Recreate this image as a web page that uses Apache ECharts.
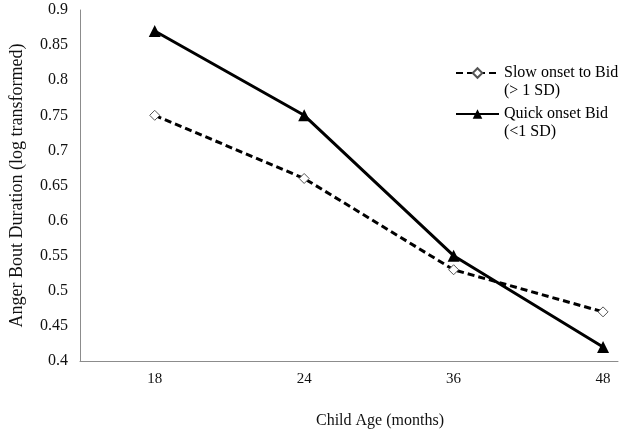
<!DOCTYPE html>
<html>
<head>
<meta charset="utf-8">
<script src="https://cdn.jsdelivr.net/npm/echarts@6/dist/echarts.min.js"></script>
<style>html,body{margin:0;padding:0;background:#fff;}#c{width:624px;height:434px;}</style>
</head>
<body>
<div id="c"></div>
<script>
var categories = ['18', '24', '36', '48'];
var slowName = 'Slow onset to Bid\n(> 1 SD)';
var quickName = 'Quick onset Bid\n(<1 SD)';
var slowValues = [0.75, 0.66, 0.53, 0.47];
var quickValues = [0.87, 0.75, 0.55, 0.42];
var yTicks = { min: 0.4, max: 0.9, interval: 0.05 };
var xTitle = 'Child Age (months)';
var yTitle = 'Anger Bout Duration (log transformed)';

var font = '"Liberation Serif", "Times New Roman", serif';
var chart = echarts.init(document.getElementById('c'), null, { renderer: 'canvas' });
function pts(vals) { return vals.map(function (v, i) { return [i, v]; }); }
chart.setOption({
  animation: false,
  backgroundColor: '#fff',
  textStyle: { fontFamily: font },
  grid: { left: 74, right: 6, top: 10, bottom: 71, containLabel: false },
  legend: {
    left: 455, top: 46, orient: 'vertical', padding: 0,
    itemWidth: 43, itemHeight: 12, itemGap: -13,
    formatter: function (n) { return ' \n' + n; },
    textStyle: { fontFamily: font, fontSize: 16, color: '#000', lineHeight: 18 },
    data: [slowName, quickName]
  },
  xAxis: {
    type: 'value', min: -0.5, max: 3.1, interval: 0.5,
    splitLine: { show: false },
    axisTick: { show: false },
    axisLine: { onZero: false, lineStyle: { color: '#8c8c8c', width: 1 } },
    axisLabel: {
      fontFamily: font, fontSize: 15, color: '#111', margin: 11,
      showMinLabel: false, showMaxLabel: false,
      formatter: function (v) { return (Math.abs(v - Math.round(v)) < 1e-6 && categories[Math.round(v)] !== undefined) ? categories[Math.round(v)] : ''; }
    },
    name: xTitle, nameLocation: 'middle', nameGap: 52,
    nameTextStyle: { fontFamily: font, fontSize: 16, color: '#111', padding: [0, 0, 0, 62] }
  },
  yAxis: {
    type: 'value', min: yTicks.min, max: yTicks.max, interval: yTicks.interval,
    splitLine: { show: false },
    axisTick: { show: false },
    axisLine: { show: true, onZero: false, lineStyle: { color: '#8c8c8c', width: 1 } },
    axisLabel: { fontFamily: font, fontSize: 16, color: '#111', margin: 12,
      formatter: function (v) { return String(parseFloat(v.toFixed(2))); } },
    name: yTitle, nameLocation: 'middle', nameGap: 54, nameRotate: 90,
    nameTextStyle: { fontFamily: font, fontSize: 18, color: '#111' }
  },
  series: [
    {
      name: slowName, type: 'line', data: pts(slowValues),
      symbol: 'diamond', symbolSize: 10, showSymbol: true,
      lineStyle: { color: '#000', width: 3, type: [7, 4] },
      itemStyle: { color: '#fff', borderColor: '#555', borderWidth: 1 }
    },
    {
      name: quickName, type: 'line', data: pts(quickValues),
      symbol: 'triangle', symbolSize: 12, showSymbol: true,
      lineStyle: { color: '#000', width: 3 },
      itemStyle: { color: '#000', borderColor: '#000', borderWidth: 0 }
    }
  ]
});
</script>
</body>
</html>
